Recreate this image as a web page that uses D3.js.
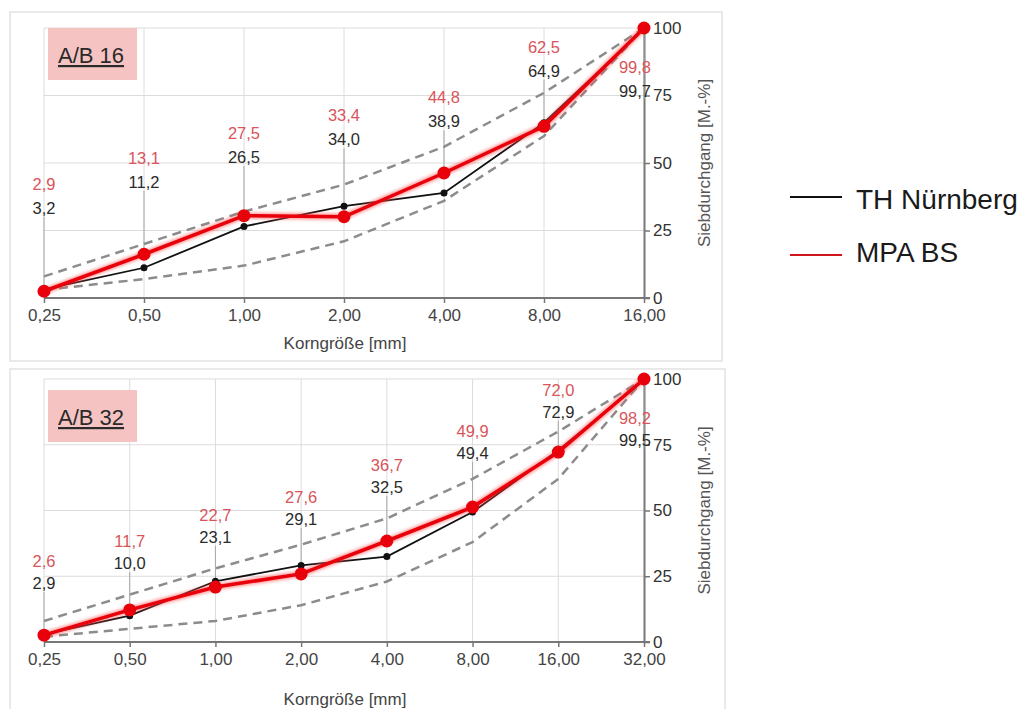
<!DOCTYPE html>
<html>
<head>
<meta charset="utf-8">
<script src="https://cdn.jsdelivr.net/npm/d3@7"></script>
<style>
  body { margin: 0; background: #fff; }
  svg { display: block; font-family: "Liberation Sans", Arial, sans-serif; }
</style>
</head>
<body>
<svg id="chart" width="1034" height="709"></svg>
<script>
// sieve sizes
const sizes16 = ["0,25", "0,50", "1,00", "2,00", "4,00", "8,00", "16,00"];
const sizes32 = ["0,25", "0,50", "1,00", "2,00", "4,00", "8,00", "16,00", "32,00"];
const yTicks = [0, 25, 50, 75, 100];

// A/B 16
const th16 = [3.2, 11.2, 26.5, 34.0, 38.9, 64.9, 99.7];
const mpa16 = [2.5, 16.2, 30.5, 30.1, 46.3, 63.6, 100];
const mpa16Labels = ["2,9", "13,1", "27,5", "33,4", "44,8", "62,5", "99,8"];
const limitA16 = [3, 7, 12, 21, 36, 60, 100];
const limitB16 = [8, 20, 32, 42, 56, 76, 100];
const labelLevel16 = [33.5, 43, 52.2, 58.8, 65.4, 84.2, 76.8];

// A/B 32
const th32 = [2.9, 10.0, 23.1, 29.1, 32.5, 49.4, 72.9, 99.5];
const mpa32 = [2.6, 12.2, 20.9, 25.9, 38.4, 51.3, 72.2, 100];
const mpa32Labels = ["2,6", "11,7", "22,7", "27,6", "36,7", "49,9", "72,0", "98,2"];
const limitA32 = [2, 5, 8, 14, 23, 38, 62, 100];
const limitB32 = [8, 18, 28, 37, 47, 62, 80, 100];
const labelLevel32 = [22.4, 30, 40, 46.8, 59, 71.9, 87.5, 76.8];

const series = ["TH Nürnberg", "MPA BS"];

const RED = "#e8000b";
const fmt = v => d3.format(".1f")(v).replace(".", ",");

const svg = d3.select("#chart");

// soft glow under the red line
const defs = svg.append("defs");
defs.append("filter").attr("id", "glow")
    .attr("x", "-20%").attr("y", "-20%").attr("width", "140%").attr("height", "140%")
  .append("feGaussianBlur").attr("stdDeviation", 1.6);

function drawPanel(cfg) {
    const g = svg.append("g");
    const n = cfg.sizes.length;

    // panel frame
    g.append("rect")
        .attr("x", cfg.frame[0]).attr("y", cfg.frame[1])
        .attr("width", cfg.frame[2]).attr("height", cfg.frame[3])
        .attr("fill", "#fff").attr("stroke", "#e2e2e2").attr("stroke-width", 1.5);

    const x = d3.scalePoint().domain(cfg.sizes).range([44, 644]);
    const y = d3.scaleLinear().domain([0, 100]).range(cfg.yRange);

    // grid
    g.append("g").selectAll("line.h")
        .data(yTicks.slice(1))
        .join("line")
        .attr("x1", 44).attr("x2", 644)
        .attr("y1", d => y(d)).attr("y2", d => y(d))
        .attr("stroke", "#dcdcdc");
    g.append("g").selectAll("line.v")
        .data(cfg.sizes.slice(0, -1))
        .join("line")
        .attr("x1", d => x(d)).attr("x2", d => x(d))
        .attr("y1", y(100)).attr("y2", y(0))
        .attr("stroke", "#dcdcdc");

    // label box
    const bx = g.append("g");
    bx.append("rect")
        .attr("x", 48).attr("y", cfg.boxY).attr("width", 89).attr("height", 52)
        .attr("fill", "#f6c3c3");
    bx.append("text")
        .attr("x", 58).attr("y", cfg.boxY + 35)
        .attr("font-size", 22).attr("fill", "#2a2a2a")
        .attr("text-decoration", "underline")
        .text(cfg.title);

    // x axis
    const xAxis = d3.axisBottom(x).tickSize(5).tickSizeOuter(0).tickPadding(6);
    const gx = g.append("g")
        .attr("transform", `translate(0,${y(0)})`)
        .call(xAxis);
    gx.select(".domain").attr("stroke", "#777").attr("stroke-width", 2)
        .attr("d", `M44,0H650`);
    gx.selectAll(".tick line").attr("stroke", "#777").attr("stroke-width", 1.5);
    gx.selectAll(".tick text").attr("font-size", 17).attr("fill", "#444")
        .attr("font-family", "Liberation Sans, Arial, sans-serif");

    // y axis on the right
    const yAxis = d3.axisRight(y).tickValues(yTicks).tickSize(6).tickSizeOuter(0).tickPadding(3);
    const gy = g.append("g")
        .attr("transform", `translate(644,0)`)
        .call(yAxis);
    gy.select(".domain").attr("stroke", "#777").attr("stroke-width", 2);
    gy.selectAll(".tick line").attr("stroke", "#777").attr("stroke-width", 1.5);
    gy.selectAll(".tick text").attr("font-size", 17).attr("fill", "#333")
        .attr("font-family", "Liberation Sans, Arial, sans-serif");

    // axis titles
    g.append("text")
        .attr("x", 345).attr("y", cfg.xTitleY)
        .attr("text-anchor", "middle").attr("font-size", 17).attr("fill", "#444")
        .text("Korngröße [mm]");
    g.append("text")
        .attr("transform", `translate(710,${(y(0) + y(100)) / 2}) rotate(-90)`)
        .attr("text-anchor", "middle").attr("font-size", 17).attr("fill", "#555")
        .text("Siebdurchgang [M.-%]");

    // the last pair of labels sits left of the axis, like in the source
    const lx = i => x(cfg.sizes[i]) - (i === n - 1 ? 9 : 0);

    // leader lines from labels to points
    g.append("g").selectAll("line")
        .data(cfg.sizes)
        .join("line")
        .attr("x1", d => x(d)).attr("x2", d => x(d))
        .attr("y1", (d, i) => y(cfg.labelLevel[i]) + 9)
        .attr("y2", (d, i) => y(Math.max(cfg.th[i], cfg.mpa[i])))
        .attr("stroke", "#a8a8a8").attr("stroke-width", 1);

    const line = d3.line().x((d, i) => x(cfg.sizes[i])).y(d => y(d));

    // limit curves
    [cfg.limitA, cfg.limitB].forEach(arr => {
        g.append("path")
            .attr("d", line(arr))
            .attr("fill", "none").attr("stroke", "#8c8c8c")
            .attr("stroke-width", 2.5).attr("stroke-dasharray", "9,6");
    });

    // TH Nürnberg
    g.append("path")
        .attr("d", line(cfg.th))
        .attr("fill", "none").attr("stroke", "#111").attr("stroke-width", 1.8);
    g.append("g").selectAll("circle")
        .data(cfg.th)
        .join("circle")
        .attr("cx", (d, i) => x(cfg.sizes[i])).attr("cy", d => y(d))
        .attr("r", 3.5).attr("fill", "#111");

    // MPA BS
    g.append("path")
        .attr("d", line(cfg.mpa))
        .attr("fill", "none").attr("stroke", "#ff4a4a").attr("stroke-opacity", 0.55)
        .attr("stroke-width", 6.5).attr("filter", "url(#glow)");
    g.append("path")
        .attr("d", line(cfg.mpa))
        .attr("fill", "none").attr("stroke", RED).attr("stroke-width", 3.5);
    g.append("g").selectAll("circle")
        .data(cfg.mpa)
        .join("circle")
        .attr("cx", (d, i) => x(cfg.sizes[i])).attr("cy", d => y(d))
        .attr("r", 6.5).attr("fill", RED);

    // value labels
    const lab = g.append("g").attr("text-anchor", "middle").attr("font-size", 16.5);
    lab.selectAll("text.th")
        .data(cfg.th)
        .join("text")
        .attr("x", (d, i) => lx(i))
        .attr("y", (d, i) => y(cfg.labelLevel[i]) + 6)
        .attr("fill", "#2b2b2b")
        .text(d => fmt(d));
    lab.selectAll("text.mpa")
        .data(cfg.mpaLabels)
        .join("text")
        .attr("x", (d, i) => lx(i))
        .attr("y", (d, i) => y(cfg.labelLevel[i]) + 6 - cfg.labelGap)
        .attr("fill", "#d9555a")
        .text(d => d);
}

drawPanel({
    frame: [10, 12, 712, 349], yRange: [298, 28], boxY: 28, xTitleY: 349,
    title: "A/B 16", sizes: sizes16, th: th16, mpa: mpa16, mpaLabels: mpa16Labels,
    limitA: limitA16, limitB: limitB16, labelLevel: labelLevel16, labelGap: 24
});

drawPanel({
    frame: [10, 369, 715, 350], yRange: [642, 379], boxY: 390, xTitleY: 705,
    title: "A/B 32", sizes: sizes32, th: th32, mpa: mpa32, mpaLabels: mpa32Labels,
    limitA: limitA32, limitB: limitB32, labelLevel: labelLevel32, labelGap: 22
});

// legend
const legend = svg.append("g").attr("transform", "translate(790,0)");
const legendY = [197, 255];
const legendColor = ["#111", "#d0141c"];
legend.selectAll("line")
    .data(series)
    .join("line")
    .attr("x1", 0).attr("x2", 52)
    .attr("y1", (d, i) => legendY[i]).attr("y2", (d, i) => legendY[i])
    .attr("stroke", (d, i) => legendColor[i]).attr("stroke-width", 2.2);
legend.selectAll("text")
    .data(series)
    .join("text")
    .attr("x", 66)
    .attr("y", (d, i) => legendY[i] + (i === 0 ? 12 : 7))
    .attr("font-size", 28).attr("fill", "#1a1a1a")
    .text(d => d);
</script>
</body>
</html>
